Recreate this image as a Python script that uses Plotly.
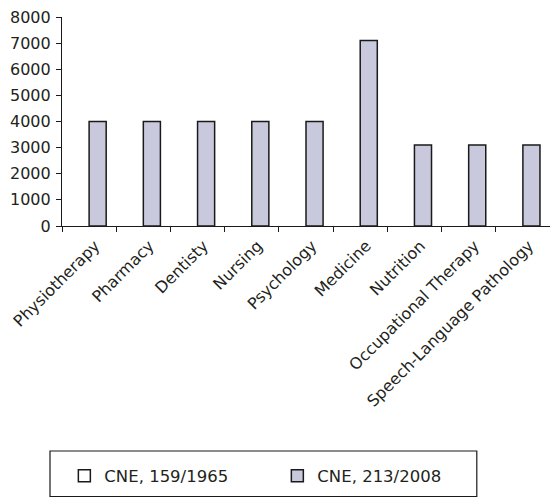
import plotly.graph_objects as go

# Minimum course workload (hours) by health programme
programmes = [
    "Physiotherapy", "Pharmacy", "Dentisty", "Nursing", "Psychology",
    "Medicine", "Nutrition", "Occupational Therapy", "Speech-Language Pathology",
]
hours_1965 = [None] * 9
hours_2008 = [4000, 4000, 4000, 4000, 4000, 7100, 3100, 3100, 3100]
y_ticks = [0, 1000, 2000, 3000, 4000, 5000, 6000, 7000, 8000]

FONT = "DejaVu Sans"
TEXT = "#231f20"
INK = "#1a1a1a"

fig = go.Figure()
fig.add_trace(go.Bar(
    x=programmes, y=hours_1965, name="CNE, 159/1965",
    marker=dict(color="white", line=dict(color=INK, width=1.5)),
))
fig.add_trace(go.Bar(
    x=programmes, y=hours_2008, name="CNE, 213/2008",
    marker=dict(color="#c9c9de", line=dict(color=INK, width=1.5)),
))

# frame around the legend
fig.add_shape(
    type="rect", xref="paper", yref="paper",
    x0=-0.0246, x1=0.850, y0=-1.2943, y1=-1.0766,
    line=dict(color=INK, width=1.2), fillcolor="rgba(0,0,0,0)",
)

fig.update_layout(
    width=550, height=497,
    margin=dict(l=62, r=0, t=17, b=271),
    paper_bgcolor="white", plot_bgcolor="white",
    font=dict(family=FONT, size=16, color=TEXT),
    barmode="group", bargap=0.37, bargroupgap=0,
    showlegend=True,
    legend=dict(
        orientation="h",
        xref="container", yref="container",
        x=0.117, xanchor="left", y=0.0423, yanchor="middle",
        borderwidth=0, bgcolor="rgba(0,0,0,0)",
        entrywidth=168, entrywidthmode="pixels",
        font=dict(family=FONT, size=16.5, color=TEXT),
        traceorder="normal",
    ),
    xaxis=dict(
        showline=True, linecolor=INK, linewidth=1.2,
        ticks="outside", tickson="boundaries", ticklen=5,
        tickcolor=INK, tickangle=-45,
        ticklabelshift=6, ticklabelstandoff=3,
        showgrid=False, zeroline=False,
        tickfont=dict(family=FONT, size=16, color=TEXT),
    ),
    yaxis=dict(
        range=[0, 8000], tickvals=y_ticks,
        showline=True, linecolor=INK, linewidth=1.2,
        ticks="outside", ticklen=5, tickcolor=INK,
        showgrid=False, zeroline=False,
        ticklabelstandoff=2,
        tickfont=dict(family=FONT, size=16, color=TEXT),
    ),
)

fig.write_html("out.html")
